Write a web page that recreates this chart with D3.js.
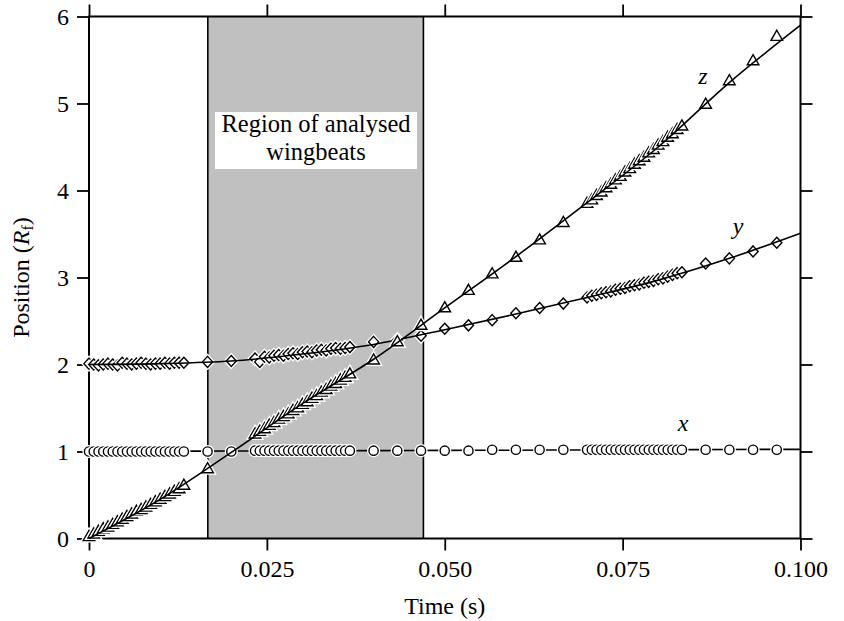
<!DOCTYPE html>
<html>
<head>
<meta charset="utf-8">
<script src="https://cdn.jsdelivr.net/npm/d3@7"></script>
<style>
  body { margin: 0; background: #fff; }
  text { font-family: "Liberation Serif", "Times New Roman", serif; fill: #000; }
</style>
</head>
<body>
<svg id="chart" width="844" height="621"></svg>
<script>
// Video frame numbers of the digitised samples (filmed at 1500 frames per second)
const frameRate = 1500;
const frames = [
  0,1,2,3,4,5,6,7,8,9,10,11,12,13,14,15,16,17,18,19,20,
  25,30,
  35,36,37,38,39,40,41,42,43,44,45,46,47,48,49,50,51,52,53,54,55,
  60,65,70,75,80,85,90,95,100,
  105,106,107,108,109,110,111,112,113,114,115,116,117,118,119,120,121,122,123,124,125,
  130,135,140,145
];

// Measured body position (in units of Rf)
const posX = [
  1.00,1.00,1.00,1.00,1.00,1.00,1.00,1.00,1.00,1.00,1.00,1.00,1.00,1.00,1.00,1.00,1.00,1.00,1.00,1.00,1.00,
  1.00,1.00,
  1.01,1.01,1.01,1.01,1.01,1.01,1.01,1.01,1.01,1.01,1.01,1.01,1.01,1.01,1.01,1.01,1.01,1.01,1.01,1.01,1.01,
  1.01,1.01,1.01,1.01,1.01,1.02,1.02,1.02,1.02,
  1.02,1.02,1.02,1.02,1.02,1.02,1.02,1.02,1.02,1.02,1.02,1.02,1.02,1.02,1.02,1.02,1.02,1.02,1.02,1.02,1.02,
  1.02,1.02,1.02,1.02
];
const posY = [
  2.01,2.00,1.99,2.00,2.01,2.00,1.99,2.02,2.01,2.00,2.01,2.02,2.01,2.00,2.01,2.01,2.02,2.01,2.02,2.02,2.02,
  2.03,2.04,
  2.07,2.03,2.09,2.08,2.10,2.11,2.10,2.12,2.13,2.12,2.14,2.15,2.14,2.16,2.17,2.16,2.18,2.19,2.18,2.19,2.20,
  2.26,2.28,2.33,2.41,2.45,2.51,2.59,2.65,2.70,
  2.77,2.79,2.80,2.82,2.83,2.84,2.86,2.87,2.88,2.90,2.91,2.92,2.94,2.95,2.96,2.98,2.99,3.01,3.03,3.05,3.06,
  3.16,3.22,3.30,3.40
];
const posZ = [
  0.03,0.06,0.09,0.12,0.14,0.17,0.20,0.23,0.26,0.29,0.32,0.34,0.37,0.40,0.43,0.46,0.49,0.52,0.55,0.58,0.62,
  0.81,null,
  1.21,1.24,1.27,1.31,1.34,1.38,1.41,1.44,1.48,1.51,1.55,1.58,1.62,1.65,1.69,1.72,1.76,1.79,1.83,1.86,1.90,
  2.06,2.27,2.46,2.66,2.86,3.05,3.24,3.44,3.64,
  3.86,3.90,3.95,3.99,4.04,4.08,4.13,4.17,4.22,4.26,4.31,4.35,4.39,4.44,4.48,4.53,4.57,4.62,4.66,4.71,4.75,
  5.00,5.27,5.50,5.78
];

// Smoothed fits through each coordinate
const fitTime = [0,0.01,0.02,0.03,0.04,0.05,0.06,0.07,0.08,0.09,0.10];
const fitX = [1.000,1.003,1.005,1.008,1.010,1.013,1.015,1.018,1.020,1.023,1.025];
const fitY = [2.00,2.01,2.04,2.12,2.23,2.40,2.58,2.77,2.97,3.22,3.51];
const fitZ = [0.00,0.45,0.99,1.55,2.06,2.65,3.24,3.86,4.50,5.24,5.90];

// Window of analysed wingbeats (s)
const regionStart = 0.0167;
const regionEnd = 0.0470;

const xTicks = [0, 0.025, 0.050, 0.075, 0.100];
const xTickLabels = ["0", "0.025", "0.050", "0.075", "0.100"];
const yTicks = [0, 1, 2, 3, 4, 5, 6];

const svg = d3.select("#chart");
const m = { left: 89, top: 16.5, right: 43.5, bottom: 82.5 };
const W = 844 - m.left - m.right;
const H = 621 - m.top - m.bottom;

const x = d3.scaleLinear().domain([0, 0.1]).range([m.left, m.left + W]);
const y = d3.scaleLinear().domain([0, 6]).range([m.top + H, m.top]);

// Shaded window
svg.append("rect")
  .attr("x", x(regionStart)).attr("y", y(6))
  .attr("width", x(regionEnd) - x(regionStart)).attr("height", y(0) - y(6))
  .attr("fill", "#c0c0c0");
[regionStart, regionEnd].forEach(t => {
  svg.append("line")
    .attr("x1", x(t)).attr("x2", x(t)).attr("y1", y(0)).attr("y2", y(6))
    .attr("stroke", "#000").attr("stroke-width", 1.6);
});

// Label box inside the window
svg.append("rect")
  .attr("x", 215).attr("y", 112).attr("width", 202).attr("height", 57)
  .attr("fill", "#fff");
svg.append("text").attr("x", 316).attr("y", 132).attr("text-anchor", "middle")
  .attr("font-size", 24.5).text("Region of analysed");
svg.append("text").attr("x", 316).attr("y", 160).attr("text-anchor", "middle")
  .attr("font-size", 24.5).text("wingbeats");

// Axes (ticks on all four sides, pointing outward)
function styleAxis(g) {
  g.attr("font-family", null);
  g.select(".domain").remove();
  g.selectAll(".tick line").attr("stroke", "#000").attr("stroke-width", 1.8);
  g.selectAll(".tick text").attr("font-size", 24);
}
svg.append("g").attr("transform", `translate(0,${y(0)})`)
  .call(d3.axisBottom(x).tickValues(xTicks).tickSize(12).tickPadding(9)
        .tickFormat((d, i) => xTickLabels[i]))
  .call(styleAxis);
svg.append("g").attr("transform", `translate(0,${y(6)})`)
  .call(d3.axisTop(x).tickValues(xTicks).tickSize(12).tickFormat(""))
  .call(styleAxis);
svg.append("g").attr("transform", `translate(${x(0)},0)`)
  .call(d3.axisLeft(y).tickValues(yTicks).tickSize(12).tickPadding(8).tickFormat(d3.format("d")))
  .call(styleAxis);
svg.append("g").attr("transform", `translate(${x(0.1)},0)`)
  .call(d3.axisRight(y).tickValues(yTicks).tickSize(12).tickFormat(""))
  .call(styleAxis);

// Plot frame
svg.append("rect")
  .attr("x", x(0)).attr("y", y(6)).attr("width", x(0.1) - x(0)).attr("height", y(0) - y(6))
  .attr("fill", "none").attr("stroke", "#000").attr("stroke-width", 2);

const samples = (vals) => frames.map((f, i) => ({ t: f / frameRate, v: vals[i] }))
  .filter(d => d.v !== null);
const fits = (vals) => fitTime.map((t, i) => ({ t, v: vals[i] }));

const line = d3.line().x(d => x(d.t)).y(d => y(d.v)).curve(d3.curveMonotoneX);

function drawFit(vals) {
  svg.append("path").datum(fits(vals))
    .attr("d", line).attr("fill", "none")
    .attr("stroke", "#000").attr("stroke-width", 1.6);
}

const shapes = {
  circle: d3.symbol().type(d3.symbolCircle).size(Math.PI * 4.6 * 4.6)(),
  triangle: "M0,-5.4L5.8,4.7L-5.8,4.7Z",
  diamond: "M0,-5.5L5.1,0L0,5.5L-5.1,0Z"
};

function drawMarkers(vals, shape) {
  const g = svg.append("g");
  samples(vals).forEach(d => {
    const mk = g.append("g").attr("transform", `translate(${x(d.t)},${y(d.v)})`);
    mk.append("path").attr("d", shapes[shape])
      .attr("fill", "#fff").attr("stroke", "#fff").attr("stroke-width", 4);
    mk.append("path").attr("d", shapes[shape])
      .attr("fill", "#fff").attr("stroke", "#000").attr("stroke-width", 1.4);
  });
}

drawFit(fitX);
drawMarkers(posX, "circle");
drawMarkers(posY, "diamond");
drawFit(fitY);
drawMarkers(posZ, "triangle");
drawFit(fitZ);

// Series labels
svg.append("text").attr("x", 703).attr("y", 84).attr("text-anchor", "middle")
  .attr("font-size", 24).attr("font-style", "italic").text("z");
svg.append("text").attr("x", 738).attr("y", 234).attr("text-anchor", "middle")
  .attr("font-size", 24).attr("font-style", "italic").text("y");
svg.append("text").attr("x", 683).attr("y", 431).attr("text-anchor", "middle")
  .attr("font-size", 24).attr("font-style", "italic").text("x");

// Axis titles
svg.append("text").attr("x", x(0.05)).attr("y", 614).attr("text-anchor", "middle")
  .attr("font-size", 24).text("Time (s)");
const yt = svg.append("text")
  .attr("transform", `translate(29,${y(3)}) rotate(-90)`)
  .attr("text-anchor", "middle").attr("font-size", 24);
yt.append("tspan").text("Position (");
yt.append("tspan").attr("font-style", "italic").text("R");
yt.append("tspan").attr("font-size", 16).attr("dy", 4).text("f");
yt.append("tspan").attr("dy", -4).text(")");
</script>
</body>
</html>
